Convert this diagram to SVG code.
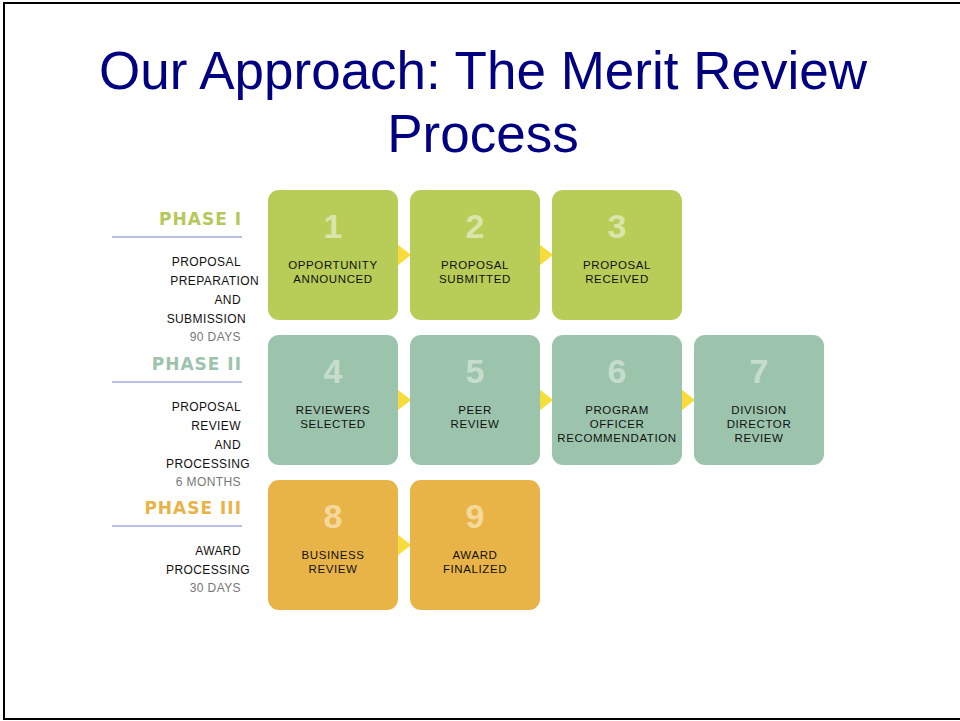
<svg xmlns="http://www.w3.org/2000/svg" width="960" height="721" viewBox="0 0 960 721">
<style>
.title{font-family:"Liberation Sans",Arial,sans-serif;font-size:53px;fill:#000080;text-anchor:middle}
.ph{font-family:"DejaVu Sans",Verdana,sans-serif;font-weight:bold;font-size:17px;letter-spacing:1px;text-anchor:end}
.lt{font-family:"Liberation Sans",Arial,sans-serif;font-size:12px;letter-spacing:0.4px;fill:#111;text-anchor:end}
.dy{font-family:"Liberation Sans",Arial,sans-serif;font-size:12px;letter-spacing:0.4px;fill:#777;text-anchor:end}
.rule{stroke:#a0aad8;stroke-width:1.5}
.num{font-family:"Liberation Sans",Arial,sans-serif;font-weight:bold;font-size:34px;text-anchor:middle}
.lb{font-family:"Liberation Sans",Arial,sans-serif;font-size:11.5px;letter-spacing:0.6px;fill:#111;text-anchor:middle}
.g{fill:#b8cc58}.t{fill:#9cc4ac}.o{fill:#e9b447}
.gn{fill:#d9e5aa}.tn{fill:#c6ddcd}.on{fill:#f5d89c}
.arr{fill:#f7dc3c}
</style>
<rect x="4" y="3" width="970" height="716" fill="#fff" stroke="#000" stroke-width="2"/>
<g id="title">
<text class="title" x="483" y="89">Our Approach: The Merit Review</text>
<text class="title" x="483" y="152">Process</text>
</g>
<g id="phase1">
<text class="ph" x="242" y="225" fill="#b5c95a">PHASE I</text>
<line class="rule" x1="112" y1="237" x2="242" y2="237"/>
<text class="lt" x="241" y="266">PROPOSAL</text>
<text class="lt" x="259" y="285">PREPARATION</text>
<text class="lt" x="241" y="304">AND</text>
<text class="lt" x="246" y="323">SUBMISSION</text>
<text class="dy" x="241" y="341">90 DAYS</text>
</g>
<g id="phase2">
<text class="ph" x="242" y="370" fill="#9cc4ac">PHASE II</text>
<line class="rule" x1="112" y1="382" x2="242" y2="382"/>
<text class="lt" x="241" y="411">PROPOSAL</text>
<text class="lt" x="241" y="430">REVIEW</text>
<text class="lt" x="241" y="449">AND</text>
<text class="lt" x="250" y="468">PROCESSING</text>
<text class="dy" x="241" y="486">6 MONTHS</text>
</g>
<g id="phase3">
<text class="ph" x="242" y="514" fill="#e9b447">PHASE III</text>
<line class="rule" x1="112" y1="526" x2="242" y2="526"/>
<text class="lt" x="241" y="555">AWARD</text>
<text class="lt" x="250" y="574">PROCESSING</text>
<text class="dy" x="241" y="592">30 DAYS</text>
</g>
<g id="connectors">
<polygon class="arr" points="397,244 411,255 397,266"/>
<polygon class="arr" points="539,244 553,255 539,266"/>
<polygon class="arr" points="397,389 411,400 397,411"/>
<polygon class="arr" points="539,389 553,400 539,411"/>
<polygon class="arr" points="681,389 695,400 681,411"/>
<polygon class="arr" points="397,534 411,545 397,556"/>
</g>
<g id="step1"><rect class="g" x="268" y="190" width="130" height="130" rx="11"/><text class="num gn" x="333" y="238">1</text><text class="lb" x="333" y="269">OPPORTUNITY</text><text class="lb" x="333" y="283">ANNOUNCED</text></g>
<g id="step2"><rect class="g" x="410" y="190" width="130" height="130" rx="11"/><text class="num gn" x="475" y="238">2</text><text class="lb" x="475" y="269">PROPOSAL</text><text class="lb" x="475" y="283">SUBMITTED</text></g>
<g id="step3"><rect class="g" x="552" y="190" width="130" height="130" rx="11"/><text class="num gn" x="617" y="238">3</text><text class="lb" x="617" y="269">PROPOSAL</text><text class="lb" x="617" y="283">RECEIVED</text></g>
<g id="step4"><rect class="t" x="268" y="335" width="130" height="130" rx="11"/><text class="num tn" x="333" y="383">4</text><text class="lb" x="333" y="414">REVIEWERS</text><text class="lb" x="333" y="428">SELECTED</text></g>
<g id="step5"><rect class="t" x="410" y="335" width="130" height="130" rx="11"/><text class="num tn" x="475" y="383">5</text><text class="lb" x="475" y="414">PEER</text><text class="lb" x="475" y="428">REVIEW</text></g>
<g id="step6"><rect class="t" x="552" y="335" width="130" height="130" rx="11"/><text class="num tn" x="617" y="383">6</text><text class="lb" x="617" y="414">PROGRAM</text><text class="lb" x="617" y="428">OFFICER</text><text class="lb" x="617" y="442">RECOMMENDATION</text></g>
<g id="step7"><rect class="t" x="694" y="335" width="130" height="130" rx="11"/><text class="num tn" x="759" y="383">7</text><text class="lb" x="759" y="414">DIVISION</text><text class="lb" x="759" y="428">DIRECTOR</text><text class="lb" x="759" y="442">REVIEW</text></g>
<g id="step8"><rect class="o" x="268" y="480" width="130" height="130" rx="11"/><text class="num on" x="333" y="528">8</text><text class="lb" x="333" y="559">BUSINESS</text><text class="lb" x="333" y="573">REVIEW</text></g>
<g id="step9"><rect class="o" x="410" y="480" width="130" height="130" rx="11"/><text class="num on" x="475" y="528">9</text><text class="lb" x="475" y="559">AWARD</text><text class="lb" x="475" y="573">FINALIZED</text></g>
</svg>
